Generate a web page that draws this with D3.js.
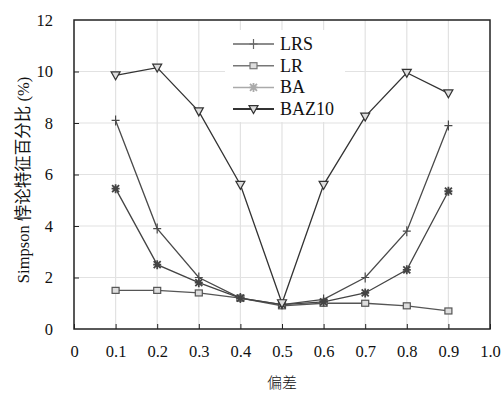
<!DOCTYPE html>
<html>
<head>
<meta charset="UTF-8" />
<title>Simpson 悖论特征百分比</title>
<style>
  body { margin: 0; background: #fff; }
  svg text { fill: #111; }
</style>
<script src="https://d3js.org/d3.v7.min.js"></script>
</head>
<body>
<svg id="chart"></svg>
<script>
  const xs = [0.1, 0.2, 0.3, 0.4, 0.5, 0.6, 0.7, 0.8, 0.9];
  const lrs = [8.1, 3.9, 2.0, 1.2, 0.95, 1.15, 2.0, 3.8, 7.9];
  const lr = [1.5, 1.5, 1.4, 1.2, 0.9, 1.0, 1.0, 0.9, 0.7];
  const ba = [5.45, 2.5, 1.8, 1.2, 0.95, 1.05, 1.4, 2.3, 5.35];
  const baz10 = [9.85, 10.15, 8.45, 5.6, 1.0, 5.6, 8.25, 9.95, 9.15];
  const xTicks = [0, 0.1, 0.2, 0.3, 0.4, 0.5, 0.6, 0.7, 0.8, 0.9, 1.0];
  const yTicks = [0, 2, 4, 6, 8, 10, 12];

  const series = [
    { name: "LRS", values: lrs, marker: "plus", color: "#4a4a4a" },
    { name: "LR", values: lr, marker: "square", color: "#555" },
    { name: "BA", values: ba, marker: "star", color: "#444" },
    { name: "BAZ10", values: baz10, marker: "tri", color: "#333" }
  ];

  const serif = "'Liberation Serif', 'Noto Sans CJK SC', serif";
  const width = 503, height = 394;
  const m = { left: 74, right: 13, top: 20, bottom: 65 };

  const svg = d3.select("#chart").attr("width", width).attr("height", height);

  const x = d3.scaleLinear().domain([0, 1]).range([m.left, width - m.right]);
  const y = d3.scaleLinear().domain([0, 12]).range([height - m.bottom, m.top]);

  // grid
  svg.append("g").selectAll("line").data(xTicks.slice(1, -1)).join("line")
    .attr("x1", d => x(d)).attr("x2", d => x(d))
    .attr("y1", y(0)).attr("y2", y(12))
    .attr("stroke", "#e2e2e2").attr("stroke-width", 1.2);
  svg.append("g").selectAll("line").data(yTicks.slice(1, -1)).join("line")
    .attr("x1", x(0)).attr("x2", x(1))
    .attr("y1", d => y(d)).attr("y2", d => y(d))
    .attr("stroke", "#e2e2e2").attr("stroke-width", 1.2);

  // axes
  const xAxis = svg.append("g").attr("transform", `translate(0,${y(0)})`)
    .call(d3.axisBottom(x).tickValues(xTicks).tickSizeInner(-5).tickSizeOuter(0)
      .tickPadding(16).tickFormat(d => d === 0 ? "0" : d === 1 ? "1.0" : d3.format(".1f")(d)));
  const yAxis = svg.append("g").attr("transform", `translate(${x(0)},0)`)
    .call(d3.axisLeft(y).tickValues(yTicks).tickSizeInner(-5).tickSizeOuter(0).tickPadding(21));
  [xAxis, yAxis].forEach(g => {
    g.attr("font-family", serif).attr("font-size", 16);
    g.selectAll("text").style("font-family", serif).style("font-size", "16.5px");
    g.selectAll("line").attr("stroke", "#222");
    g.select(".domain").remove();
  });
  yAxis.selectAll(".tick line").filter(d => d === 0 || d === 12).remove();

  svg.append("rect")
    .attr("x", x(0)).attr("y", y(12))
    .attr("width", x(1) - x(0)).attr("height", y(0) - y(12))
    .attr("fill", "none").attr("stroke", "#222").attr("stroke-width", 1.5);

  // legend background
  svg.append("rect").attr("x", 225).attr("y", 30).attr("width", 120).attr("height", 92).attr("fill", "#fff");

  function drawMarker(g, type, cx, cy, color) {
    if (type === "plus") {
      g.append("path").attr("d", `M${cx - 4},${cy}H${cx + 4}M${cx},${cy - 5}V${cy + 5}`)
        .attr("stroke", color).attr("stroke-width", 1.2).attr("fill", "none");
    } else if (type === "square") {
      g.append("rect").attr("x", cx - 3.5).attr("y", cy - 3).attr("width", 7).attr("height", 6)
        .attr("fill", "#ddd").attr("stroke", color).attr("stroke-width", 1.2);
    } else if (type === "star") {
      g.append("path")
        .attr("d", `M${cx - 3.5},${cy - 3.5}L${cx + 3.5},${cy + 3.5}M${cx + 3.5},${cy - 3.5}L${cx - 3.5},${cy + 3.5}M${cx - 4},${cy}H${cx + 4}M${cx},${cy - 4.5}V${cy + 4.5}`)
        .attr("stroke", color).attr("stroke-width", 1.8).attr("fill", "none");
    } else if (type === "tri") {
      g.append("path").attr("d", `M${cx - 4.5},${cy - 3.5}H${cx + 4.5}L${cx},${cy + 4.5}Z`)
        .attr("fill", "#ddd").attr("stroke", color).attr("stroke-width", 1.2);
    }
  }

  const line = d3.line().x(d => x(d[0])).y(d => y(d[1]));

  series.forEach(s => {
    const pts = xs.map((v, i) => [v, s.values[i]]);
    const g = svg.append("g");
    g.append("path").datum(pts).attr("d", line)
      .attr("fill", "none").attr("stroke", s.color).attr("stroke-width", 1.3);
    pts.forEach(p => drawMarker(g, s.marker, x(p[0]), y(p[1]), s.color));
  });

  // legend
  const legendColors = ["#666", "#777", "#aaa", "#333"];
  series.forEach((s, i) => {
    const ly = 44 + i * 21.7;
    const g = svg.append("g");
    g.append("line").attr("x1", 233).attr("x2", 274).attr("y1", ly).attr("y2", ly)
      .attr("stroke", legendColors[i]).attr("stroke-width", i === 3 ? 2 : 1.5);
    drawMarker(g, s.marker, 253.5, ly, legendColors[i]);
    g.append("text").attr("x", 280).attr("y", ly + 6)
      .style("font-family", serif).style("font-size", "18px").text(s.name);
  });

  svg.append("text").attr("x", x(0.5)).attr("y", 388).attr("text-anchor", "middle")
    .style("font-family", "'Noto Sans CJK SC'").style("font-size", "15px").style("font-weight", 300).text("偏差");

  svg.append("text").attr("transform", "translate(29,180) rotate(-90)")
    .attr("text-anchor", "middle")
    .style("font-family", serif)
    .style("font-size", "16.5px").text("Simpson 悖论特征百分比 (%)");
</script>
</body>
</html>
